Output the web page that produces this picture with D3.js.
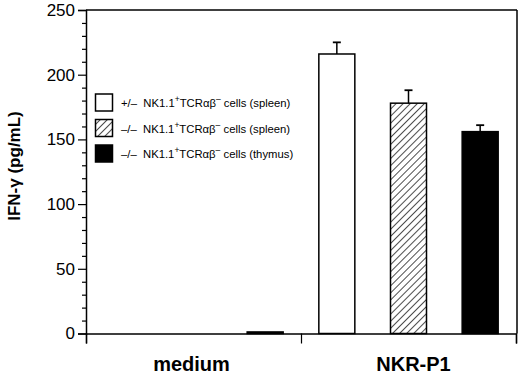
<!DOCTYPE html>
<html><head><meta charset="utf-8">
<script src="https://cdn.jsdelivr.net/npm/d3@7"></script>
<style>body{margin:0;background:#fff}svg{display:block}text{font-family:"Liberation Sans",Arial,sans-serif}</style>
</head><body>
<svg id="c" width="520" height="375"></svg>
<script>
const categories = ["medium", "NKR-P1"];
const seriesNames = ["+/- spleen", "-/- spleen", "-/- thymus"];
const valuesMedium = [0, 0, 1.2];
const valuesNKR = [216, 178, 156];
const errorsMedium = [0, 0, 0];
const errorsNKR = [9, 10, 5];
const yTicks = [0, 50, 100, 150, 200, 250];
const legendPrefix = ["+/\u2013", "\u2013/\u2013", "\u2013/\u2013"];
const legendTissue = ["spleen", "spleen", "thymus"];

const svg = d3.select("#c");
const x0 = d3.scaleBand().domain(categories).range([86, 516]);
const x1 = d3.scaleBand().domain(seriesNames).range([0, x0.bandwidth()]).paddingInner(1).paddingOuter(0.5);
const y = d3.scaleLinear().domain([0, 250]).range([333.5, 10]);

const defs = svg.append("defs");
const pat = defs.append("pattern").attr("id","hatch").attr("patternUnits","userSpaceOnUse")
  .attr("width",5).attr("height",5).attr("patternTransform","rotate(45)");
pat.append("rect").attr("width",5).attr("height",5).attr("fill","#fff");
pat.append("line").attr("x1",0).attr("y1",0).attr("x2",0).attr("y2",5).attr("stroke","#000").attr("stroke-width",1.4);
const fills = ["#fff", "url(#hatch)", "#000"];

// frame
svg.append("line").attr("x1",86).attr("x2",517).attr("y1",y(250)).attr("y2",y(250)).attr("stroke","#000").attr("stroke-width",1.5);
svg.append("line").attr("x1",517).attr("x2",517).attr("y1",y(250)).attr("y2",y(0)).attr("stroke","#000").attr("stroke-width",1.5);

// y axis
const yAxis = d3.axisLeft(y).tickValues(yTicks).tickSize(8).tickPadding(3);
const gy = svg.append("g").attr("transform","translate(86,0)").call(yAxis);
gy.select(".domain").attr("stroke-width",1.5);
gy.selectAll(".tick line").attr("stroke-width",1.2);
gy.selectAll(".tick text").attr("font-size",17).attr("fill","#000");
const gym = svg.append("g").attr("transform","translate(86,0)")
  .call(d3.axisLeft(y).tickValues(d3.range(0,251,10).filter(v=>v%50)).tickSize(4).tickFormat(""));
gym.select(".domain").remove();
gym.selectAll(".tick line").attr("stroke-width",1.2);

// bars
const data = categories.map((c,i)=>({cat:c, vals: i===0?valuesMedium:valuesNKR, errs: i===0?errorsMedium:errorsNKR}));
const groups = svg.append("g").selectAll("g").data(data).join("g").attr("transform",d=>`translate(${x0(d.cat)},0)`);
groups.each(function(d){
  const g = d3.select(this);
  d.vals.forEach((v,j)=>{
    if (v <= 0) return;
    const bx = x1(seriesNames[j]);
    const w = 36;
    g.append("rect").attr("x",bx - w/2 + x1.bandwidth()/2).attr("y",y(v)).attr("width",w).attr("height",y(0)-y(v))
      .attr("fill",fills[j]).attr("stroke","#000").attr("stroke-width",1.5);
    if (d.errs[j] > 0) {
      const cx = bx + x1.bandwidth()/2;
      g.append("line").attr("x1",cx).attr("x2",cx).attr("y1",y(v)).attr("y2",y(v+d.errs[j])).attr("stroke","#000").attr("stroke-width",1.5);
      g.append("line").attr("x1",cx-4).attr("x2",cx+4).attr("y1",y(v+d.errs[j])).attr("y2",y(v+d.errs[j])).attr("stroke","#000").attr("stroke-width",1.8);
    }
  });
});

// x axis
const xAxis = d3.axisBottom(d3.scaleLinear().domain([0,2]).range([86,516])).tickValues([0,1,2]).tickSize(10).tickFormat("");
const gx = svg.append("g").attr("transform",`translate(0,${y(0)})`).call(xAxis);
gx.select(".domain").attr("stroke-width",1.5);
gx.selectAll(".tick line").attr("stroke-width",1.2);
svg.selectAll(".catlab").data(categories).join("text").attr("class","catlab")
  .attr("x",(d,i)=>x0(d)+x0.bandwidth()/2 + (i===0?-2:5)).attr("y",371)
  .attr("text-anchor","middle").attr("font-size",20).attr("font-weight","bold").text(d=>d);

// y label
svg.append("text").attr("transform","translate(20,166) rotate(-90)").attr("text-anchor","middle")
  .attr("font-size",17).attr("font-weight","bold").text("IFN-\u03b3 (pg/mL)");

// legend
const lg = svg.append("g");
seriesNames.forEach((s,j)=>{
  const yy = 94 + j*25.5;
  lg.append("rect").attr("x",95.5).attr("y",yy).attr("width",17).attr("height",17)
    .attr("fill",fills[j]).attr("stroke","#000").attr("stroke-width",1.5);
  const t = lg.append("text").attr("x",121).attr("y",yy+13).attr("font-size",11.3);
  t.append("tspan").text(legendPrefix[j] + "\u00a0\u00a0NK1.1");
  t.append("tspan").attr("dy",-5).attr("font-size",8.5).text("+");
  t.append("tspan").attr("dy",5).text("TCR\u03b1\u03b2");
  t.append("tspan").attr("dy",-5).attr("font-size",8.5).text("\u2013");
  t.append("tspan").attr("dy",5).text(" cells (" + legendTissue[j] + ")");
});
</script>
</body></html>
